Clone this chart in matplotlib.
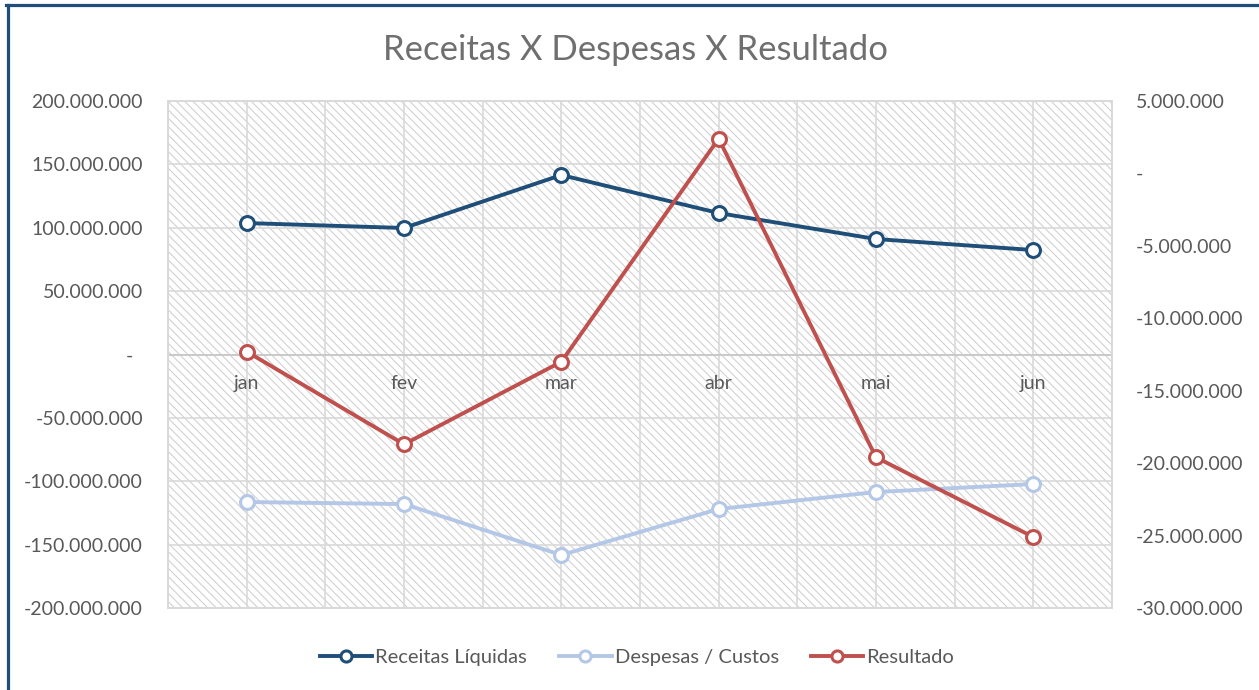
import matplotlib
matplotlib.use('Agg')
import matplotlib.pyplot as plt
from matplotlib.lines import Line2D
from matplotlib.patches import Rectangle
from matplotlib.ticker import FuncFormatter, MultipleLocator

plt.rcParams['font.family'] = ['Lato', 'DejaVu Sans']
plt.rcParams['hatch.linewidth'] = 0.75

# dados
meses = ['jan', 'fev', 'mar', 'abr', 'mai', 'jun']
receitas = [103.7e6, 99.8e6, 141.6e6, 111.6e6, 91.1e6, 82.4e6]
despesas = [-116.4e6, -118.0e6, -158.2e6, -121.9e6, -108.5e6, -102.2e6]
resultado = [-12.3e6, -18.7e6, -13.0e6, 2.4e6, -19.6e6, -25.1e6]

left_ticks = list(range(-200_000_000, 200_000_001, 50_000_000))
right_ticks = list(range(-30_000_000, 5_000_001, 5_000_000))

CINZA = '#595959'
GRADE = '#d9d9d9'
AZUL = '#1F4E79'
AZUL_CLARO = '#B4C7E7'
VERMELHO = '#C0504D'


def fmt(v, pos=None):
    if abs(v) < 0.5:
        return '-  '
    return f"{v:,.0f}".replace(',', '.')


fig = plt.figure(figsize=(12.59, 6.90), dpi=100)
ax = fig.add_axes([168 / 1259, 1 - 608 / 690, (1112 - 168) / 1259, (608 - 101) / 690])
ax2 = ax.twinx()

# fundo hachurado
ax.add_patch(Rectangle((0, 0), 1, 1, transform=ax.transAxes, facecolor='white',
                       edgecolor='#cfcfcf', linewidth=0, hatch='\\\\\\\\', zorder=0))

x = list(range(len(meses)))
ax.set_xlim(-0.5, len(meses) - 0.5)
ax.set_ylim(left_ticks[0], left_ticks[-1])
ax2.set_ylim(right_ticks[0], right_ticks[-1])
ax.set_yticks(left_ticks)
ax2.set_yticks(right_ticks)
ax.yaxis.set_major_formatter(FuncFormatter(fmt))
ax2.yaxis.set_major_formatter(FuncFormatter(fmt))

ax.xaxis.set_major_locator(MultipleLocator(0.5))
ax.set_xticklabels([])
ax.grid(True, color=GRADE, linewidth=1.2, zorder=1)
ax.set_axisbelow(True)
ax.axhline(0, color='#c8c8c8', linewidth=1.3, zorder=1.5)

for a in (ax, ax2):
    a.tick_params(length=0, labelsize=14, labelcolor=CINZA)
    for s in a.spines.values():
        s.set_color(GRADE)
        s.set_linewidth(1.2)
ax.tick_params(axis='y', pad=18)
ax2.tick_params(axis='y', pad=17)

for i, m in enumerate(meses):
    ax.annotate(m, (i, 0), xytext=(0, -14.5), textcoords='offset points',
                ha='center', va='top', fontsize=14, color=CINZA, zorder=2)

kw = dict(linewidth=2.8, marker='o', markersize=10, markerfacecolor='white',
          markeredgewidth=2.2, solid_joinstyle='round', zorder=3)
ax.plot(x, receitas, color=AZUL, **kw)
ax.plot(x, despesas, color=AZUL_CLARO, **kw)
ax2.plot(x, resultado, color=VERMELHO, **kw)

fig.text(0.505, 1 - 50 / 690, 'Receitas X Despesas X Resultado', ha='center',
         va='center', fontsize=25, color='#6f6f6f')

handles = [Line2D([], [], color=c, linewidth=2.8, marker='o', markersize=8,
                  markerfacecolor='white', markeredgewidth=2.2)
           for c in (AZUL, AZUL_CLARO, VERMELHO)]
fig.legend(handles, ['Receitas Líquidas', 'Despesas / Custos', 'Resultado'],
           loc='center', bbox_to_anchor=(0.506, 1 - 657 / 690), ncol=3,
           frameon=False, fontsize=14.5, labelcolor=CINZA, handlelength=2.6,
           handletextpad=0.15, columnspacing=1.6)

# moldura azul (topo e esquerda)
fig.add_artist(Line2D([7.5 / 1259, 7.5 / 1259], [0, 1 - 4.5 / 690], color=AZUL,
                      linewidth=2.3, transform=fig.transFigure))
fig.add_artist(Line2D([6 / 1259, 1], [1 - 4.5 / 690, 1 - 4.5 / 690], color=AZUL,
                      linewidth=2.3, transform=fig.transFigure))

fig.savefig('out.png', dpi=100)
